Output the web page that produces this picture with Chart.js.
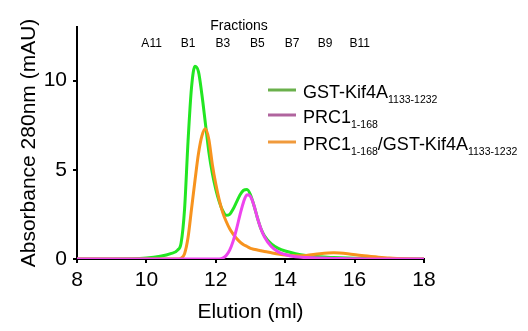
<!DOCTYPE html>
<html>
<head>
<meta charset="utf-8">
<script src="https://cdn.jsdelivr.net/npm/chart.js@4.4.1/dist/chart.umd.min.js"></script>
<style>
  html, body { margin: 0; padding: 0; background: #fff; }
  #wrap { width: 528px; height: 331px; }
</style>
</head>
<body>
<div id="wrap"><canvas id="sec"></canvas></div>
<script>
// elution volume (ml)
const elution = [8, 9, 10, 10.4, 10.7, 10.9, 11.0, 11.1, 11.2, 11.3, 11.4, 11.5, 11.6, 11.7, 11.8, 11.9,
  12.0, 12.1, 12.2, 12.3, 12.4, 12.5, 12.6, 12.7, 12.8, 12.9, 13.0, 13.1, 13.2, 13.3, 13.4, 13.6, 13.8,
  14.0, 14.3, 14.6, 15.0, 15.4, 15.8, 16.2, 16.6, 17.0, 17.5, 18];
// absorbance 280nm (mAU)
const kif4a = [0, 0, 0.05, 0.15, 0.3, 0.5, 0.9, 2.8, 6.6, 9.6, 10.8, 10.5, 9.2, 7.6, 6.0, 4.8,
  3.9, 3.2, 2.7, 2.45, 2.5, 2.8, 3.2, 3.6, 3.85, 3.9, 3.6, 3.0, 2.3, 1.7, 1.3, 0.85, 0.6,
  0.45, 0.3, 0.2, 0.12, 0.08, 0.05, 0.03, 0.02, 0.01, 0, 0];
const prc1 = [0, 0, 0, 0, 0, 0, 0, 0, 0, 0, 0, 0, 0, 0, 0, 0,
  0, 0, 0.05, 0.2, 0.5, 1.0, 1.7, 2.5, 3.2, 3.6, 3.5, 3.0, 2.3, 1.7, 1.25, 0.7, 0.4,
  0.25, 0.12, 0.08, 0.05, 0.03, 0.02, 0.01, 0, 0, 0, 0];
const complex = [0, 0, 0, 0, 0, 0, 0.05, 0.3, 1.2, 2.8, 4.4, 5.9, 6.9, 7.3, 6.7, 5.3,
  4.2, 3.3, 2.6, 2.1, 1.7, 1.4, 1.15, 0.95, 0.8, 0.7, 0.6, 0.55, 0.5, 0.46, 0.42, 0.35, 0.28,
  0.22, 0.18, 0.2, 0.3, 0.35, 0.3, 0.2, 0.12, 0.05, 0.01, 0];

// fraction labels along the top
const fractionNames = ["A11", "B1", "B3", "B5", "B7", "B9", "B11"];
const fractionPos = [10.15, 11.2, 12.2, 13.2, 14.2, 15.15, 16.15];

// legend: name + subscript pieces
const legendItems = [
  { color: '#6ab04c', parts: [["GST-Kif4A", false], ["1133-1232", true]] },
  { color: '#b0649e', parts: [["PRC1", false], ["1-168", true]] },
  { color: '#f09a3c', parts: [["PRC1", false], ["1-168", true], ["/GST-Kif4A", false], ["1133-1232", true]] }
];

const FONT = '"Liberation Sans", Arial, sans-serif';

function toPoints(ys) {
  return elution.map((x, i) => ({ x: x, y: ys[i] }));
}

const extras = {
  id: 'extras',
  afterDraw(chart) {
    const ctx = chart.ctx;
    const xs = chart.scales.x;
    ctx.save();
    ctx.fillStyle = '#000';
    ctx.textAlign = 'center';
    ctx.textBaseline = 'alphabetic';
    ctx.font = '14px ' + FONT;
    ctx.fillText('Fractions', xs.getPixelForValue(12.67), 30);
    ctx.font = '12px ' + FONT;
    fractionNames.forEach((n, i) => {
      ctx.fillText(n, xs.getPixelForValue(fractionPos[i]), 47);
    });

    // legend
    ctx.textAlign = 'left';
    const rows = [98, 123, 150];
    legendItems.forEach((item, i) => {
      const y = rows[i];
      ctx.strokeStyle = item.color;
      ctx.lineWidth = 3;
      ctx.beginPath();
      ctx.moveTo(268, y - 8);
      ctx.lineTo(296, y - 8);
      ctx.stroke();
      let x = 303;
      item.parts.forEach(p => {
        ctx.font = (p[1] ? '10.5px ' : '18px ') + FONT;
        ctx.fillStyle = '#000';
        ctx.fillText(p[0], x, p[1] ? y + 5 : y);
        x += ctx.measureText(p[0]).width;
      });
    });
    ctx.restore();
  }
};

const ds = (label, ys, color) => ({
  label: label,
  data: toPoints(ys),
  borderColor: color,
  backgroundColor: color,
  borderWidth: 3,
  pointRadius: 0,
  cubicInterpolationMode: 'monotone',
  fill: false
});

new Chart(document.getElementById('sec'), {
  type: 'line',
  data: {
    datasets: [
      ds('PRC1', prc1, '#ee44ee'),
      ds('PRC1/GST-Kif4A', complex, '#f7931e'),
      ds('GST-Kif4A', kif4a, '#22e622')
    ]
  },
  options: {
    responsive: true,
    maintainAspectRatio: false,
    animation: false,
    layout: { padding: { top: 27, right: 104, left: 0, bottom: 0 } },
    plugins: { legend: { display: false }, tooltip: { enabled: false } },
    scales: {
      x: {
        type: 'linear',
        min: 8, max: 18,
        afterFit: s => { s.height = 72; },
        ticks: { stepSize: 2, padding: 5, color: '#000', font: { family: FONT, size: 21 } },
        grid: { drawOnChartArea: false, drawTicks: true, tickLength: 4, color: '#000', lineWidth: 2 },
        border: { display: true, color: '#000', width: 2 },
        title: { display: true, text: 'Elution (ml)', color: '#000', font: { family: FONT, size: 21 }, padding: { top: 0, bottom: 6 } }
      },
      y: {
        min: 0, max: 13,
        afterFit: s => { s.width = 77; },
        afterBuildTicks: s => { s.ticks = [0, 5, 10].map(v => ({ value: v })); },
        ticks: { padding: 6, color: '#000', font: { family: FONT, size: 21 } },
        grid: { drawOnChartArea: false, drawTicks: true, tickLength: 4, color: '#000', lineWidth: 2 },
        border: { display: true, color: '#000', width: 2 },
        title: { display: true, text: 'Absorbance 280nm (mAU)', color: '#000', font: { family: FONT, size: 21 }, padding: { top: 17, bottom: 0 } }
      }
    }
  },
  plugins: [extras]
});
</script>
</body>
</html>
